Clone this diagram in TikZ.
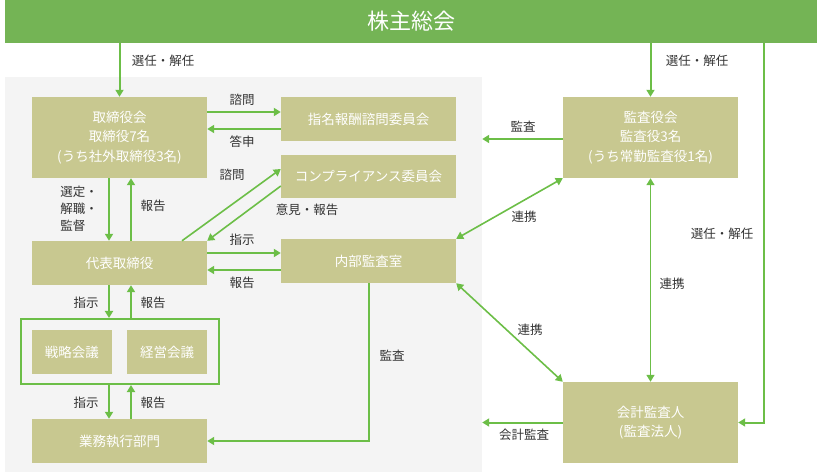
\documentclass[tikz,border=0pt]{standalone}
\usepackage{fontspec}
\setmainfont{Noto Sans CJK JP}
\usetikzlibrary{arrows.meta}
\definecolor{barg}{HTML}{74B455}
\definecolor{lineg}{HTML}{6CBE47}
\definecolor{boxc}{HTML}{C8C890}
\definecolor{panelc}{HTML}{F4F4F4}
\definecolor{txtc}{HTML}{333333}
\tikzset{
  bx/.style={fill=boxc,text=white,inner sep=0pt,align=center,minimum width=175pt,minimum height=44pt,
    font=\fontsize{13.5}{19.5}\selectfont},
  lb/.style={text=txtc,inner sep=0pt,font=\fontsize{12.5}{17}\selectfont},
  arr/.style={lineg,line width=2pt,-{Triangle[length=7pt,width=8pt]}},
  dbl/.style={lineg,line width=1.6pt,{Triangle[length=7pt,width=8pt]}-{Triangle[length=7pt,width=8pt]}}
}
\begin{document}
\begin{tikzpicture}[x=1pt,y=-1pt]
\useasboundingbox (0,0) rectangle (820,473);
\node[fill=panelc,minimum width=477pt,minimum height=395pt,inner sep=0pt] (panel) at (243.5,274.5) {};
\node[fill=barg,text=white,minimum width=812pt,minimum height=43pt,inner sep=0pt,font=\fontsize{22}{26}\selectfont] (bar) at (411,21.5) {株主総会};
\node[bx,minimum height=81pt] (torishimari) at (119.5,137.5) {取締役会\\取締役7名\\(うち社外取締役3名)};
\node[bx] (shimei) at (368.5,119) {指名報酬諮問委員会};
\node[bx,minimum height=43pt] (comp) at (368.5,176.5) {コンプライアンス委員会};
\node[bx] (daihyo) at (119.5,263) {代表取締役};
\node[bx] (naibu) at (368.5,261) {内部監査室};
\node[draw=lineg,line width=2pt,minimum width=198pt,minimum height=65pt,inner sep=0pt] (frame) at (120,351.5) {};
\node[bx,minimum width=80pt] (senryaku) at (72,352) {戦略会議};
\node[bx,minimum width=80pt] (keiei) at (167,352) {経営会議};
\node[bx] (gyomu) at (119.5,441) {業務執行部門};
\node[bx,minimum height=81pt] (kansayaku) at (650.5,137.5) {監査役会\\監査役3名\\(うち常勤監査役1名)};
\node[bx,minimum height=81pt] (kaikei) at (650.5,422.5) {会計監査人\\(監査法人)};
\draw[arr] (bar.south -| torishimari.north) -- (torishimari.north);
\draw[arr] (bar.south -| kansayaku.north) -- (kansayaku.north);
\coordinate (sr) at (764,0 |- bar.south);
\draw[arr] (sr) |- (kaikei.east);
\draw[arr] (torishimari.east |- 0,112) -- (shimei.west |- 0,112);
\draw[arr] (shimei.west |- 0,129) -- (torishimari.east |- 0,129);
\draw[arr] (torishimari.south -| 109,0) -- (daihyo.north -| 109,0);
\draw[arr] (daihyo.north -| 131,0) -- (torishimari.south -| 131,0);
\draw[arr,line width=1.6pt] (daihyo.north -| 182,0) -- (comp.west |- 0,169);
\draw[arr,line width=1.6pt] (comp.west |- 0,186) -- (daihyo.north east);
\draw[arr] (daihyo.east |- 0,253) -- (naibu.west |- 0,253);
\draw[arr] (naibu.west |- 0,270) -- (daihyo.east |- 0,270);
\draw[arr] (daihyo.south -| 109,0) -- (frame.north -| 109,0);
\draw[arr] (frame.north -| 131,0) -- (daihyo.south -| 131,0);
\draw[arr] (frame.south -| 109,0) -- (gyomu.north -| 109,0);
\draw[arr] (gyomu.north -| 131,0) -- (frame.south -| 131,0);
\draw[arr] (naibu.south -| 369,0) |- (gyomu.east);
\draw[arr] (kansayaku.west |- 0,139) -- (panel.east |- 0,139);
\draw[dbl] (kansayaku.south west) -- (naibu.north east);
\draw[dbl] (kansayaku.south) -- (kaikei.north);
\draw[dbl] (naibu.south east) -- (kaikei.north west);
\draw[arr] (kaikei.west) -- (panel.east |- kaikei.west);
\node[lb] (l1) at (163,61) {選任・解任};
\node[lb] (l2) at (697,61) {選任・解任};
\node[lb] (l3) at (242,100) {諮問};
\node[lb] (l4) at (242,142) {答申};
\node[lb,align=left] (l5) at (79,209) {選定・\\解職・\\監督};
\node[lb] (l6) at (153,206) {報告};
\node[lb] (l7) at (232,175) {諮問};
\node[lb] (l8) at (307,210) {意見・報告};
\node[lb] (l9) at (242,240) {指示};
\node[lb] (l10) at (242,283) {報告};
\node[lb] (l11) at (86,303) {指示};
\node[lb] (l12) at (153,303) {報告};
\node[lb] (l13) at (86,403) {指示};
\node[lb] (l14) at (153,403) {報告};
\node[lb] (l15) at (392,356) {監査};
\node[lb] (l16) at (523,127) {監査};
\node[lb] (l17) at (524,217) {連携};
\node[lb] (l18) at (672,284) {連携};
\node[lb] (l19) at (722,234) {選任・解任};
\node[lb] (l20) at (530,330) {連携};
\node[lb] (l21) at (524,435) {会計監査};
\end{tikzpicture}
\end{document}
